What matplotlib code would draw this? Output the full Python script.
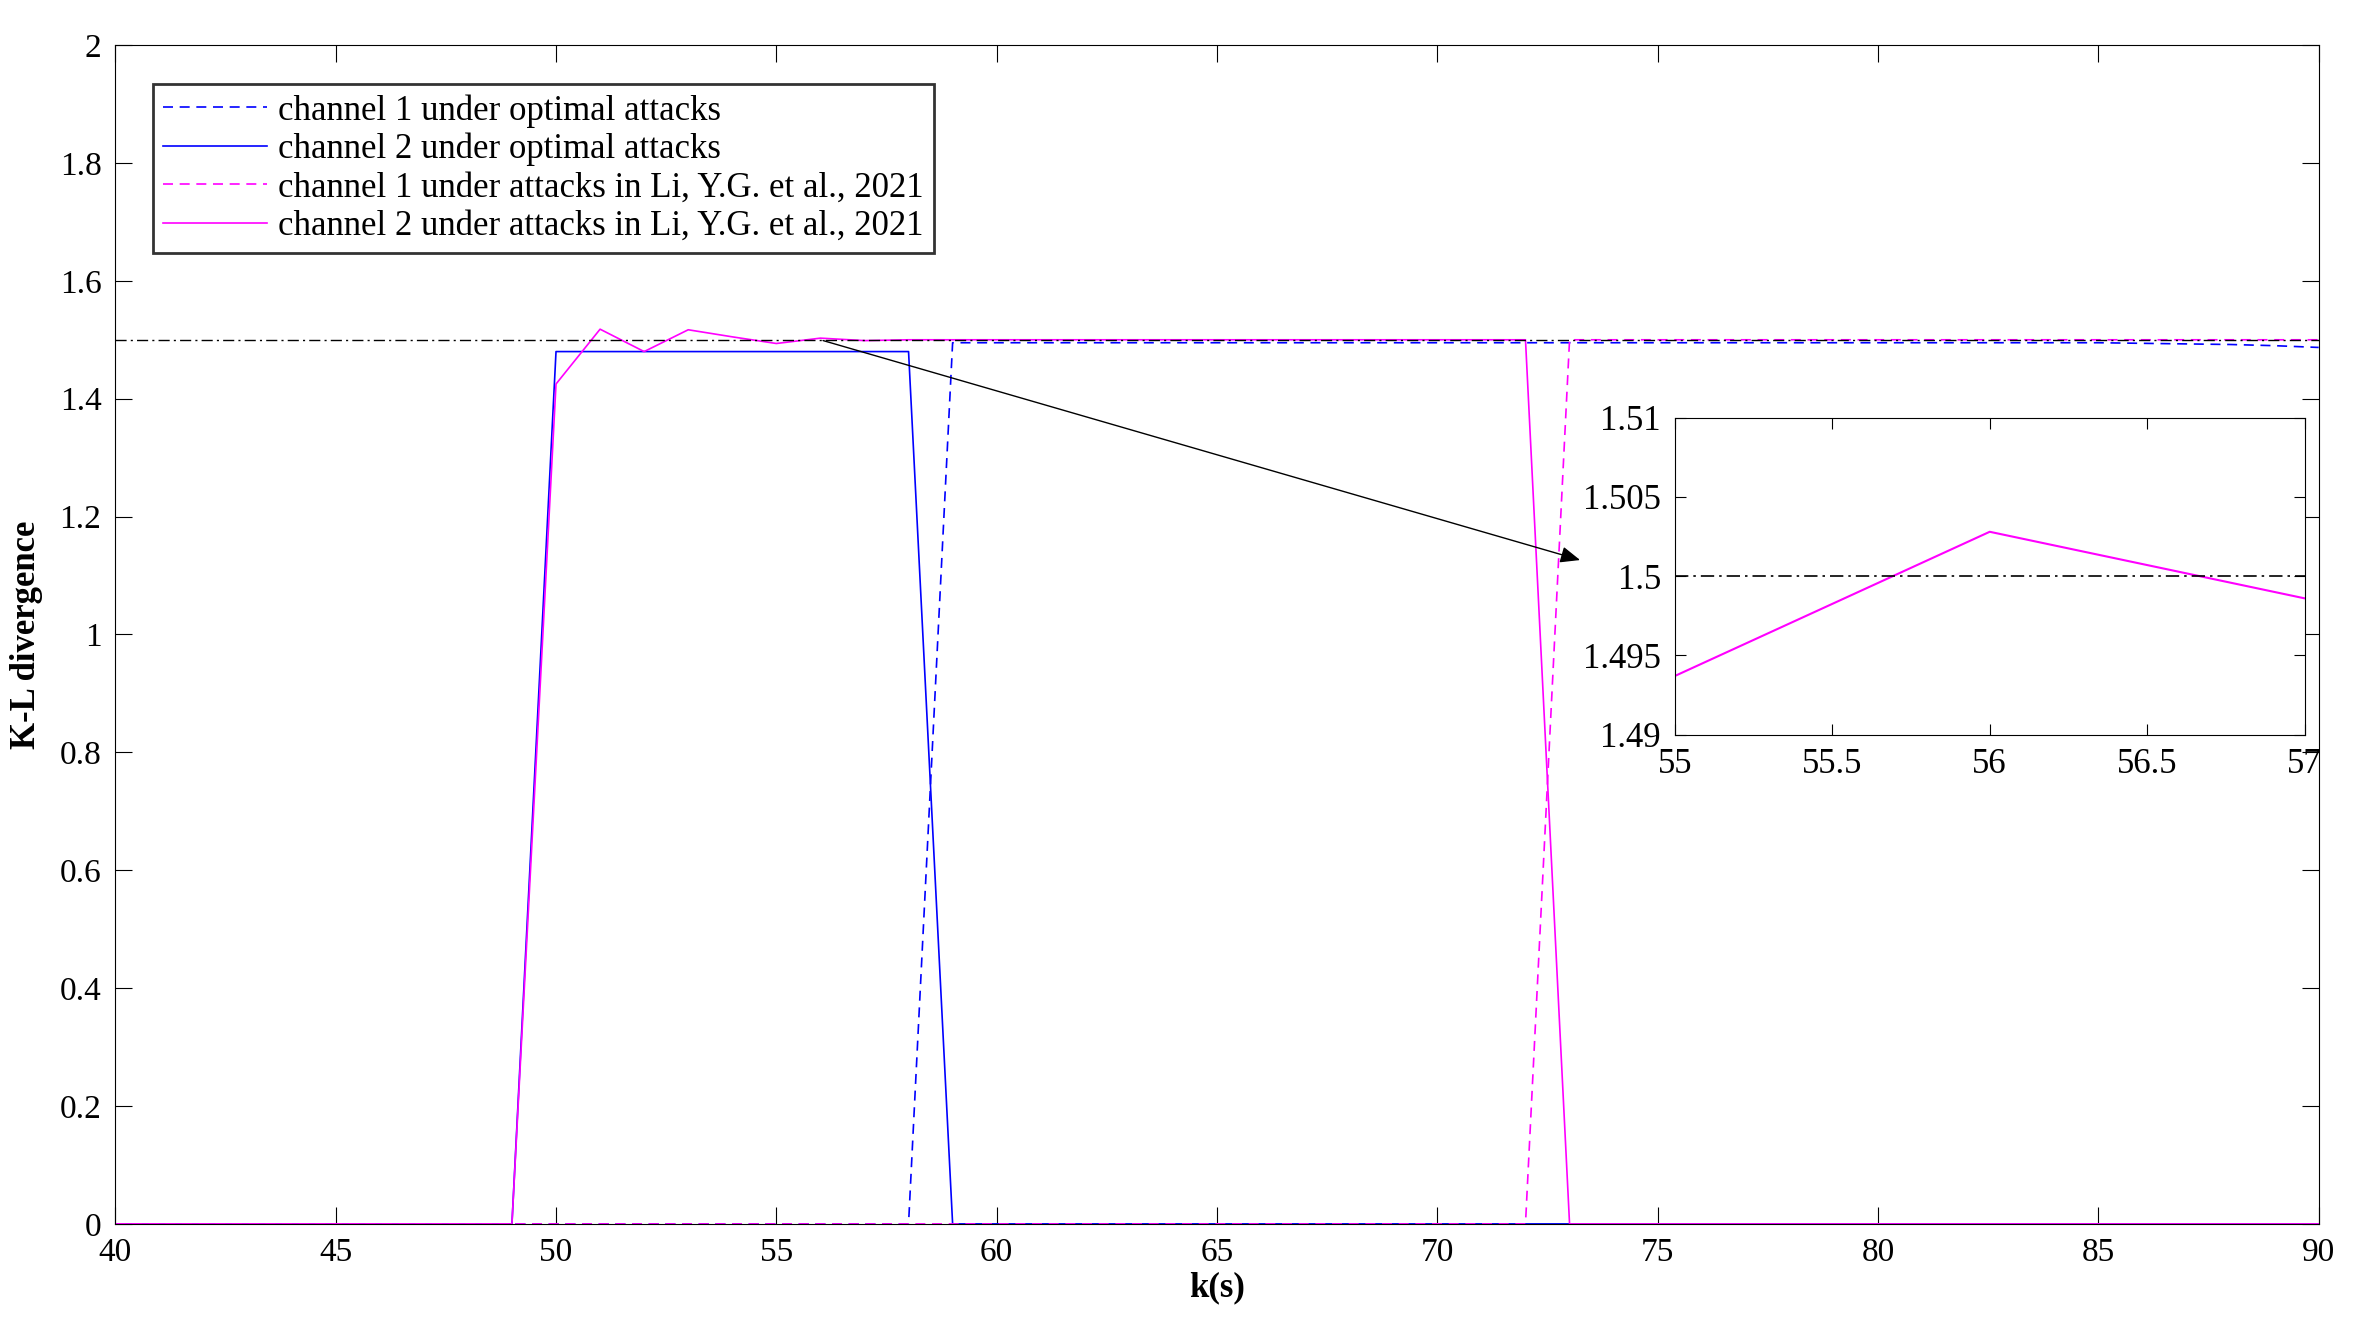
import matplotlib
matplotlib.use("Agg")
import matplotlib.pyplot as plt
import numpy as np

plt.rcParams['font.family'] = ['Liberation Serif', 'DejaVu Serif']

k = np.arange(40, 91)
n = len(k)

# channel 2 under optimal attacks: on for k=50..58
ch2_opt = np.zeros(n)
ch2_opt[(k >= 50) & (k <= 58)] = 1.48

# channel 1 under optimal attacks: from k=59, slight decay at end
ch1_opt = np.zeros(n)
ch1_opt[k >= 59] = 1.495
ch1_opt[k == 86] = 1.494
ch1_opt[k == 87] = 1.493
ch1_opt[k == 88] = 1.492
ch1_opt[k == 89] = 1.49
ch1_opt[k == 90] = 1.487

# channel 1 under Li attacks: from k=73
ch1_li = np.zeros(n)
ch1_li[k >= 73] = 1.5

# channel 2 under Li attacks
ch2_li_k = [50, 51, 52, 53, 54, 55, 56, 57]
ch2_li_v = [1.425, 1.518, 1.48, 1.517, 1.505, 1.4937, 1.5028, 1.4986]
ch2_li = np.zeros(n)
ch2_li[(k >= 58) & (k <= 72)] = 1.5
for kk, vv in zip(ch2_li_k, ch2_li_v):
    ch2_li[k == kk] = vv

threshold = 1.5

fig = plt.figure(figsize=(23.54, 13.26), dpi=100)
ax = fig.add_axes([0.049, 0.077, 0.936, 0.889])

ax.plot(k, ch1_opt, '--', color='blue', lw=1.2, dashes=(6, 4), label='channel 1 under optimal attacks')
ax.plot(k, ch2_opt, '-', color='blue', lw=1.2, label='channel 2 under optimal attacks')
ax.plot(k, ch1_li, '--', color='magenta', lw=1.2, dashes=(6, 4), label='channel 1 under attacks in Li, Y.G. et al., 2021')
ax.plot(k, ch2_li, '-', color='magenta', lw=1.2, label='channel 2 under attacks in Li, Y.G. et al., 2021')
ax.axhline(threshold, color='black', lw=1.0, ls='-.', dashes=(8, 3, 1.5, 3))

ax.set_xlim(40, 90)
ax.set_ylim(0, 2)
ax.set_xticks(np.arange(40, 91, 5))
ax.set_yticks(np.arange(0, 2.01, 0.2))
ax.set_yticklabels(['0', '0.2', '0.4', '0.6', '0.8', '1', '1.2', '1.4', '1.6', '1.8', '2'])
ax.tick_params(direction='in', labelsize=24, length=12, pad=10, top=True, right=True)
ax.set_xlabel('k(s)', fontsize=25, fontweight='bold', labelpad=2)
ax.set_ylabel('K-L divergence', fontsize=25, fontweight='bold', labelpad=12)

leg = ax.legend(loc='upper left', bbox_to_anchor=(0.009, 0.982), fontsize=25, frameon=True,
                fancybox=False, edgecolor='black', handlelength=3.0, borderpad=0.3,
                labelspacing=0.15, handletextpad=0.3)
leg.get_frame().set_linewidth(2)

ax.annotate('', xy=(73.3, 1.125), xytext=(56, 1.5),
            arrowprops=dict(arrowstyle='-|>,head_length=1.2,head_width=0.5', color='black', lw=1.0))

# inset
axi = fig.add_axes([0.7115, 0.446, 0.2675, 0.239])
axi.plot(k, ch2_li, '-', color='magenta', lw=1.5)
axi.axhline(threshold, color='black', lw=1.2, ls='-.', dashes=(8, 3, 1.5, 3))
axi.set_xlim(55, 57)
axi.set_ylim(1.49, 1.51)
axi.set_xticks([55, 55.5, 56, 56.5, 57])
axi.set_xticklabels(['55', '55.5', '56', '56.5', '57'])
axi.set_yticks([1.49, 1.495, 1.5, 1.505, 1.51])
axi.set_yticklabels(['1.49', '1.495', '1.5', '1.505', '1.51'])
axi.tick_params(direction='in', labelsize=25, length=8, pad=10, top=True, right=True)

fig.savefig('out.png', dpi=100)
